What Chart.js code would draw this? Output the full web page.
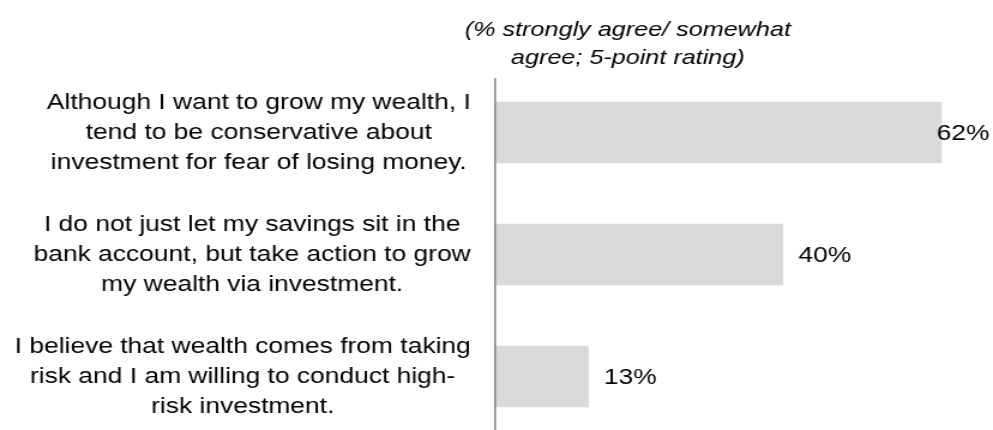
<!DOCTYPE html>
<html>
<head>
<meta charset="utf-8">
<title>Attitudes toward investment</title>
<script src="https://cdn.jsdelivr.net/npm/chart.js@4.4.0/dist/chart.umd.min.js"></script>
<style>
  html, body { margin: 0; padding: 0; background: #fff; overflow: hidden; }
  /* drawn narrow and widened by CSS, which gives the text its wide look */
  #chart { display: block; width: 993px; height: 430px; }
</style>
</head>
<body>
<canvas id="chart" width="828" height="430" style="width:993px;height:430px"></canvas>
<script>
const titleLines = ["(% strongly agree/ somewhat", "agree; 5-point rating)"];

const categories = [
  ["Although I want to grow my wealth, I", "tend to be conservative about", "investment for fear of losing money."],
  ["I do not just let my savings sit in the", "bank account, but take action to grow", "my wealth via investment."],
  ["I believe that wealth comes from taking", "risk and I am willing to conduct high-", "risk investment."]
];

const agreeShare = [62, 40, 13];

const FONT = '"Liberation Sans", Arial, sans-serif';
const TEXT = "#000000";

// category text blocks: right edge fixed, lines centred inside each block
const categoryLabels = {
  id: "categoryLabels",
  afterDraw(chart) {
    const { ctx, chartArea } = chart;
    const y = chart.scales.y;
    const right = chartArea.left - 20;
    const lh = 30;
    ctx.save();
    ctx.font = "22px " + FONT;
    ctx.fillStyle = TEXT;
    ctx.textAlign = "center";
    ctx.textBaseline = "middle";
    categories.forEach((lines, i) => {
      const cy = y.getPixelForValue(i);
      const w = Math.max(...lines.map(l => ctx.measureText(l).width));
      const cx = right - w / 2;
      const top = cy - (lines.length - 1) * lh / 2;
      lines.forEach((l, k) => ctx.fillText(l, cx, top + k * lh));
    });
    ctx.restore();
  }
};

// value at the end of each bar, pulled back in when it would run off the edge
const valueLabels = {
  id: "valueLabels",
  afterDatasetsDraw(chart) {
    const { ctx } = chart;
    const meta = chart.getDatasetMeta(0);
    const limit = chart.width - 3;
    ctx.save();
    ctx.font = "22px " + FONT;
    ctx.fillStyle = TEXT;
    ctx.textAlign = "left";
    ctx.textBaseline = "middle";
    meta.data.forEach((bar, i) => {
      const txt = agreeShare[i] + "%";
      const w = ctx.measureText(txt).width;
      let x = bar.x + 13;
      if (x + w > limit) x = limit - w;
      ctx.fillText(txt, x, bar.y + 1);
    });
    ctx.restore();
  }
};

const chartTitle = {
  id: "chartTitle",
  afterDraw(chart) {
    const { ctx } = chart;
    ctx.save();
    ctx.font = "italic 21px " + FONT;
    ctx.fillStyle = TEXT;
    ctx.textAlign = "center";
    ctx.textBaseline = "middle";
    titleLines.forEach((l, k) => ctx.fillText(l, 523.5, 30 + k * 28));
    ctx.restore();
  }
};

new Chart(document.getElementById("chart"), {
  type: "bar",
  data: {
    datasets: [{
      data: agreeShare.map((v, i) => ({ x: v, y: i })),
      backgroundColor: "#d9d9d9",
      borderWidth: 0,
      barThickness: 61
    }]
  },
  options: {
    indexAxis: "y",
    responsive: false,
    devicePixelRatio: 1,
    animation: false,
    layout: { padding: { top: 79, right: 7, bottom: 0, left: 0 } },
    plugins: {
      legend: { display: false },
      tooltip: { enabled: false }
    },
    scales: {
      x: {
        type: "linear",
        display: false,
        min: 0,
        max: 68
      },
      y: {
        type: "linear",
        reverse: true,
        bounds: "data",
        offset: false,
        min: -0.4385,
        max: 2.4385,
        grid: { display: false, drawTicks: false },
        ticks: { display: false },
        border: { display: true, color: "#898989", width: 1.6, z: 1 },
        afterBuildTicks(scale) {
          scale.ticks = categories.map((c, i) => ({ value: i }));
        },
        afterFit(scale) { scale.width = 412.5; }
      }
    }
  },
  plugins: [categoryLabels, valueLabels, chartTitle]
});
</script>
</body>
</html>
